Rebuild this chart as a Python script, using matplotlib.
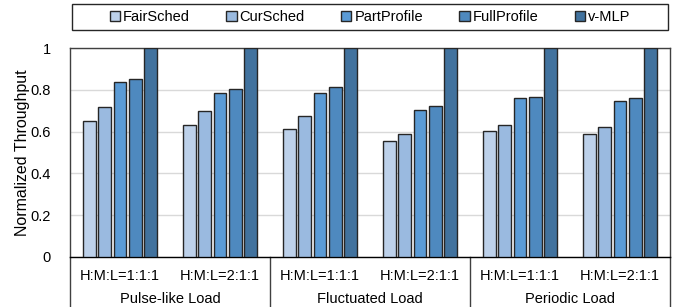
import matplotlib.pyplot as plt
import numpy as np
from matplotlib.patches import Patch, Rectangle
from matplotlib.transforms import blended_transform_factory

plt.rcParams['font.family'] = ['Liberation Sans', 'DejaVu Sans']

# data
series_names = ["FairSched", "CurSched", "PartProfile", "FullProfile", "v-MLP"]
ratio_labels = ["H:M:L=1:1:1", "H:M:L=2:1:1"] * 3
load_labels = ["Pulse-like Load", "Fluctuated Load", "Periodic Load"]

fair_sched = [0.652, 0.630, 0.614, 0.556, 0.601, 0.587]
cur_sched = [0.719, 0.700, 0.675, 0.588, 0.630, 0.620]
part_profile = [0.836, 0.785, 0.785, 0.703, 0.759, 0.748]
full_profile = [0.852, 0.804, 0.812, 0.721, 0.764, 0.762]
v_mlp = [1.0, 1.0, 1.0, 1.0, 1.0, 1.0]

colors = ["#BDD1EA", "#9ABAE0", "#5B9BD5", "#4E89BF", "#41729E"]

W, H = 681, 307
fig = plt.figure(figsize=(W / 100, H / 100), dpi=100)
ax = fig.add_axes([70 / W, (H - 257) / H, 600 / W, 209 / H])

x = np.arange(len(ratio_labels))
pitch = 0.153
width = 0.125
all_series = [fair_sched, cur_sched, part_profile, full_profile, v_mlp]
for i, vals in enumerate(all_series):
    ax.bar(x + (i - 2) * pitch, vals, width, color=colors[i],
           edgecolor="#262626", linewidth=1.0, zorder=3)

ax.set_xlim(-0.5, len(ratio_labels) - 0.5)
ax.set_ylim(0, 1)
ax.set_yticks([0, 0.2, 0.4, 0.6, 0.8, 1])
ax.set_yticklabels(["0", "0.2", "0.4", "0.6", "0.8", "1"], fontsize=10.5)
ax.tick_params(axis="y", length=0, pad=14)
ax.set_xticks([])
ax.grid(axis="y", color="#D9D9D9", linewidth=1.0, zorder=0)
ax.set_ylabel("Normalized Throughput", fontsize=11.5)
ax.yaxis.set_label_coords(-0.066, 0.5)

for side in ["top", "right", "left"]:
    ax.spines[side].set_color("#404040")
    ax.spines[side].set_linewidth(1.0)
ax.spines["bottom"].set_color("black")
ax.spines["bottom"].set_linewidth(1.0)

# multi-level category axis
trans = blended_transform_factory(ax.transData, ax.transAxes)
y_bottom = -50 / 209
for i, lab in enumerate(ratio_labels):
    ax.text(x[i], -19 / 209, lab, transform=trans, ha="center", va="center",
            fontsize=10.5)
for j, lab in enumerate(load_labels):
    ax.text(2 * j + 0.5, -42 / 209, lab, transform=trans, ha="center",
            va="center", fontsize=10.5)
for xs in [-0.5, 1.5, 3.5, 5.5]:
    ax.plot([xs, xs], [0, y_bottom], transform=trans, color="#404040",
            linewidth=1.0, clip_on=False)

# legend: fixed box, entries centred inside
fig.add_artist(Rectangle((72 / W, (H - 30) / H), 596 / W, 26 / H,
                         transform=fig.transFigure, facecolor="white",
                         edgecolor="#262626", linewidth=1.0))
handles = [Patch(facecolor=c, edgecolor="#262626", linewidth=1.0) for c in colors]
fig.legend(handles, series_names, ncol=5, loc="center",
           bbox_to_anchor=(370 / W, (H - 17) / H), fontsize=10.5,
           frameon=False, handlelength=0.7, handleheight=0.7,
           handletextpad=0.2, columnspacing=2.5, borderaxespad=0)

fig.savefig("out.png", dpi=100)
